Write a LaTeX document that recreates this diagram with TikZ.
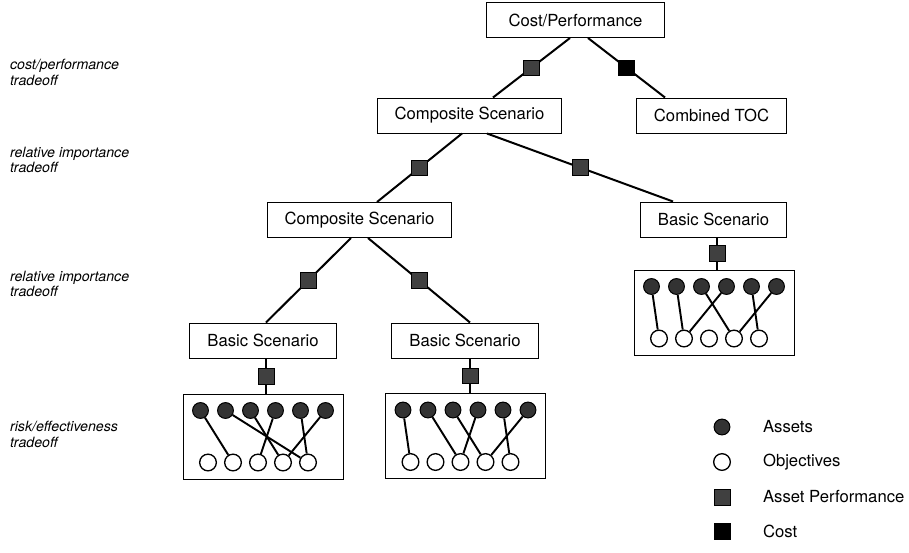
\documentclass[tikz,border=0pt]{standalone}
\usepackage{fontspec}
\setmainfont{TeX Gyre Heros}
\usepackage{tikz}
\usetikzlibrary{calc}
\tikzset{
	scen node/.style={draw,rectangle,line width=0.6pt,minimum height=21pt,inner xsep=10.5pt,font=\fontsize{10}{12}\selectfont},
	panel/.style={draw,rectangle,line width=0.6pt,minimum width=96pt,minimum height=51pt},
	asset/.style={circle,draw,fill=black!80,line width=0.6pt,minimum size=9.5pt,inner sep=0pt},
	objective/.style={circle,draw,fill=white,line width=0.8pt,minimum size=10pt,inner sep=0pt},
	perf/.style={rectangle,draw,fill=black!75,line width=0.4pt,minimum size=9.5pt,inner sep=0pt},
	cost/.style={rectangle,draw,fill=black,line width=0.4pt,minimum size=9.5pt,inner sep=0pt},
	tradeoff/.style={anchor=west,align=left,font=\fontsize{8.5}{9.5}\selectfont\itshape},
	legend/.style={anchor=west,font=\fontsize{10}{12}\selectfont}
}

\begin{document}
\begin{tikzpicture}[x=0.6pt,y=-0.6pt,line width=1.2pt]
	\useasboundingbox (0,0) rectangle (909,552);
	% scenario tree
	\node [scen node,minimum width=107pt] (cp) at (575.5,20) {Cost/Performance};
	\node [scen node] (cs1) at (469.5,115.5) {Composite Scenario};
	\node [scen node] (toc) at (711.5,115.5) {Combined TOC};
	\node [scen node] (cs2) at (359.5,220) {Composite Scenario};
	\node [scen node] (bs3) at (713.5,219.5) {Basic Scenario};
	\node [scen node] (bs1) at (263,340.5) {Basic Scenario};
	\node [scen node] (bs2) at (465,340.5) {Basic Scenario};

	% assets and objectives
	\foreach \p/\cx/\cy in {1/263/436.5,2/465.5/436,3/714/312.5} {
		\node [panel] (p\p) at (\cx,\cy) {};
		\foreach \k in {1,...,6}
			\node [asset] (p\p-a\k) at ({\cx-87.5+25*\k},{\cy-26}) {};
		\foreach \k in {1,...,5}
			\node [objective] (p\p-o\k) at ({\cx-80+25*\k},{\cy+26}) {};
	}
	\foreach \p/\a/\o in {1/1/2,1/2/5,1/3/4,1/4/3,1/5/5,1/6/4,
		2/1/1,2/2/3,2/3/4,2/4/3,2/5/5,2/6/4,
		3/1/1,3/2/2,3/3/4,3/4/2,3/5/5,3/6/4}
		\draw [line width=1.15pt] (p\p-a\a) -- (p\p-o\o);

	\draw ($(cp.south)+(-5.5,0)$) -- node [perf] {} ($(cs1.north)+(23.5,0)$);
	\draw ($(cp.south)+(12.5,0)$) -- node [cost] {} ($(toc.north)+(-46.5,0)$);
	\draw ($(cs1.south)+(-7.5,0)$) -- node [perf] {} ($(cs2.north)+(17.5,0)$);
	\draw ($(cs1.south)+(17.5,0)$) -- node [perf] {} ($(bs3.north)+(-40.5,0)$);
	\draw ($(cs2.south)+(-8.5,0)$) -- node [perf] {} ($(bs1.north)+(3,0)$);
	\draw ($(cs2.south)+(8.5,0)$) -- node [perf] {} ($(bs2.north)+(5,0)$);
	\draw ($(bs1.south)+(3,0)$) -- node [perf] {} ($(p1.north)+(3,0)$);
	\draw ($(bs2.south)+(5,0)$) -- node [perf] {} ($(p2.north)+(4.5,0)$);
	\draw ($(bs3.south)+(3.5,0)$) -- node [perf] {} ($(p3.north)+(3,0)$);

	% levels
	\node [tradeoff] (t1) at (3.5,72) {cost/performance\\tradeoff};
	\node [tradeoff] (t2) at (3.5,160) {relative importance\\tradeoff};
	\node [tradeoff] (t3) at (3.5,284) {relative importance\\tradeoff};
	\node [tradeoff] (t4) at (3.5,434) {risk/effectiveness\\tradeoff};

	% legend
	\node [asset] (l1) at (722,427) {};
	\node [legend] (l1t) at (756.5,427) {Assets};
	\node [objective] (l2) at (722,462) {};
	\node [legend] (l2t) at (756.5,462) {Objectives};
	\node [perf] (l3) at (722,497) {};
	\node [legend] (l3t) at (756.5,497) {Asset Performance};
	\node [cost] (l4) at (722,531) {};
	\node [legend] (l4t) at (756.5,531) {Cost};
\end{tikzpicture}
\end{document}
